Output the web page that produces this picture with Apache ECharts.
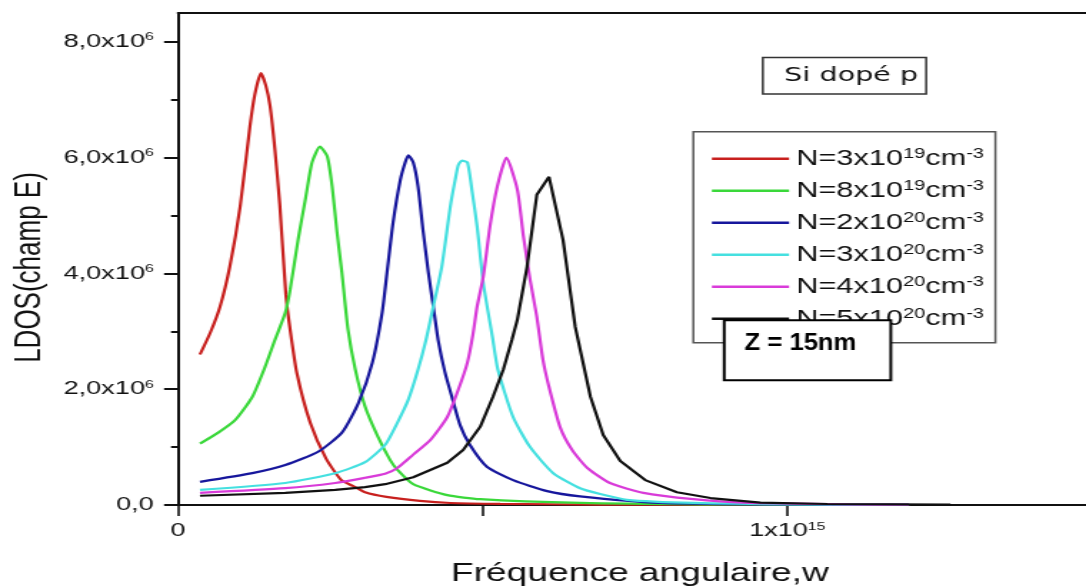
<!DOCTYPE html>
<html><head><meta charset="utf-8">
<script src="https://cdn.jsdelivr.net/npm/echarts@6/dist/echarts.min.js"></script>
<style>
html,body{margin:0;padding:0;background:#fff;overflow:hidden;}
#wrap{width:1086px;height:586px;overflow:hidden;position:relative;background:#fff;}
#chart{width:760px;height:586px;transform:scaleX(1.428947);transform-origin:0 0;}
</style></head>
<body><div id="wrap"><div id="chart"></div></div>
<script>
// Series labels (N concentrations)
const mantissas = ['3', '8', '2', '3', '4', '5'];
const exponents = ['19', '19', '20', '20', '20', '20'];
const colors = ['#c8201e', '#3ad83a', '#16169c', '#45e0e0', '#d93bd9', '#111111'];

// Angular frequency (rad/s) and LDOS values
const wRed = [0.036e15,0.053e15,0.069e15,0.085e15,0.102e15,0.118e15,0.126e15,0.136e15,0.144e15,0.151e15,0.159e15,0.167e15,0.177e15,0.184e15,0.195e15,0.217e15,0.243e15,0.268e15,0.287e15,0.307e15,0.342e15,0.397e15,0.447e15,0.529e15,0.693e15,0.857e15,1.2e15];
const ldosRed = [2.60e6,2.98e6,3.43e6,4.12e6,5.16e6,6.54e6,7.09e6,7.46e6,7.25e6,6.90e6,6.14e6,5.19e6,3.63e6,3.03e6,2.28e6,1.42e6,0.80e6,0.43e6,0.33e6,0.22e6,0.14e6,0.07e6,0.035e6,0.02e6,0.008e6,0.005e6,0.003e6];

const wGreen = [0.036e15,0.066e15,0.094e15,0.122e15,0.143e15,0.159e15,0.176e15,0.184e15,0.197e15,0.209e15,0.220e15,0.233e15,0.245e15,0.253e15,0.261e15,0.269e15,0.279e15,0.291e15,0.307e15,0.328e15,0.348e15,0.360e15,0.386e15,0.442e15,0.496e15,0.660e15,0.857e15,1.2e15];
const ldosGreen = [1.06e6,1.25e6,1.47e6,1.87e6,2.39e6,2.85e6,3.32e6,3.72e6,4.58e6,5.28e6,5.92e6,6.19e6,6.02e6,5.50e6,4.71e6,4.01e6,3.03e6,2.34e6,1.70e6,1.18e6,0.78e6,0.61e6,0.36e6,0.17e6,0.10e6,0.035e6,0.012e6,0.004e6];

const wBlue = [0.036e15,0.122e15,0.176e15,0.230e15,0.269e15,0.296e15,0.319e15,0.335e15,0.343e15,0.353e15,0.365e15,0.373e15,0.378e15,0.386e15,0.394e15,0.402e15,0.411e15,0.419e15,0.427e15,0.438e15,0.450e15,0.463e15,0.479e15,0.507e15,0.550e15,0.606e15,0.660e15,0.791e15,0.956e15,1.2e15];
const ldosBlue = [0.40e6,0.55e6,0.69e6,0.92e6,1.25e6,1.76e6,2.46e6,3.32e6,4.01e6,4.88e6,5.62e6,5.92e6,6.04e6,5.92e6,5.50e6,4.76e6,4.01e6,3.43e6,2.85e6,2.30e6,1.85e6,1.38e6,1.04e6,0.66e6,0.43e6,0.24e6,0.15e6,0.035e6,0.01e6,0.004e6];

const wCyan = [0.036e15,0.176e15,0.258e15,0.307e15,0.340e15,0.360e15,0.378e15,0.394e15,0.407e15,0.419e15,0.433e15,0.447e15,0.455e15,0.460e15,0.466e15,0.475e15,0.483e15,0.491e15,0.501e15,0.516e15,0.525e15,0.550e15,0.578e15,0.616e15,0.660e15,0.693e15,0.737e15,0.846e15,1.021e15,1.2e15];
const ldosCyan = [0.26e6,0.38e6,0.55e6,0.74e6,1.04e6,1.42e6,1.82e6,2.34e6,2.85e6,3.43e6,4.12e6,5.16e6,5.62e6,5.87e6,5.95e6,5.92e6,5.40e6,4.81e6,3.84e6,2.91e6,2.34e6,1.52e6,1.00e6,0.55e6,0.29e6,0.19e6,0.09e6,0.035e6,0.01e6,0.005e6];

const wMagenta = [0.036e15,0.176e15,0.258e15,0.307e15,0.340e15,0.360e15,0.386e15,0.414e15,0.442e15,0.460e15,0.475e15,0.484e15,0.491e15,0.501e15,0.512e15,0.524e15,0.539e15,0.557e15,0.567e15,0.578e15,0.589e15,0.599e15,0.608e15,0.627e15,0.647e15,0.672e15,0.709e15,0.764e15,0.846e15,0.928e15,1.103e15,1.2e15];
const ldosMagenta = [0.21e6,0.29e6,0.38e6,0.47e6,0.54e6,0.64e6,0.87e6,1.12e6,1.52e6,1.99e6,2.46e6,2.94e6,3.43e6,3.94e6,4.81e6,5.50e6,6.00e6,5.45e6,4.64e6,3.89e6,3.25e6,2.51e6,2.08e6,1.35e6,0.95e6,0.64e6,0.38e6,0.21e6,0.10e6,0.04e6,0.01e6,0.006e6];

const wBlack = [0.036e15,0.176e15,0.258e15,0.307e15,0.340e15,0.386e15,0.442e15,0.468e15,0.496e15,0.517e15,0.534e15,0.548e15,0.557e15,0.573e15,0.589e15,0.609e15,0.632e15,0.652e15,0.677e15,0.698e15,0.726e15,0.767e15,0.819e15,0.874e15,0.956e15,1.066e15,1.268e15];
const ldosBlack = [0.16e6,0.21e6,0.26e6,0.31e6,0.36e6,0.48e6,0.73e6,0.95e6,1.35e6,1.87e6,2.34e6,2.85e6,3.20e6,4.12e6,5.36e6,5.67e6,4.58e6,3.08e6,1.87e6,1.21e6,0.76e6,0.43e6,0.22e6,0.12e6,0.04e6,0.017e6,0.005e6];

// Axis ticks
const xTicks = [0, 0.5e15, 1e15];
const xLabels = [0, 1e15];
const yMajorTicks = [0, 2e6, 4e6, 6e6, 8e6];
const yMinorTicks = [1e6, 3e6, 5e6, 7e6];

const xs = [wRed, wGreen, wBlue, wCyan, wMagenta, wBlack];
const ys = [ldosRed, ldosGreen, ldosBlue, ldosCyan, ldosMagenta, ldosBlack];
const names = mantissas.map((m, i) => 'N=' + m + 'x10^' + exponents[i] + 'cm^-3');

const FONT = "'Liberation Sans', Arial, sans-serif";
const supRich = {
  b: { fontSize: 19, lineHeight: 20, fontFamily: FONT, color: '#111' },
  s: { fontSize: 11, lineHeight: 11, verticalAlign: 'top', fontFamily: FONT, color: '#111' }
};

const chart = echarts.init(document.getElementById('chart'), null, { renderer: 'canvas' });
const option = {
  backgroundColor: '#fff',
  animation: false,
  grid: { left: 124.6, right: 0, top: 13, bottom: 81, outerBoundsMode: 'none', containLabel: false, show: false },
  xAxis: [{
    type: 'value', min: 0, max: 1.4906e15, position: 'bottom',
    name: 'Fréquence angulaire,w', nameLocation: 'middle', nameGap: 56,
    nameTextStyle: { fontSize: 26, fontFamily: FONT, color: '#111', padding: [0, 0, 0, 11] },
    axisLine: { show: true, onZero: false, lineStyle: { color: '#111', width: 2 } },
    axisTick: { show: true, length: 11, customValues: xTicks, lineStyle: { color: '#111', width: 1.6 } },
    axisLabel: {
      margin: 16, customValues: xLabels, fontSize: 19, fontFamily: FONT, color: '#111', rich: supRich,
      formatter: v => v === 0 ? '{b|0}' : '{b|1x10}{s|15}'
    },
    splitLine: { show: false }
  }, {
    type: 'value', min: 0, max: 1.4906e15, position: 'top',
    axisLine: { show: true, onZero: false, lineStyle: { color: '#111', width: 2 } },
    axisTick: { show: false }, axisLabel: { show: false }, splitLine: { show: false }
  }],
  yAxis: [{
    type: 'value', min: 0, max: 8.5e6, position: 'left',
    name: 'LDOS(champ E)', nameLocation: 'middle', nameGap: 91,
    nameTextStyle: { fontSize: 26, fontFamily: FONT, color: '#111', padding: [0, 17, 0, 0] },
    axisLine: { show: true, onZero: false, lineStyle: { color: '#111', width: 2 } },
    axisTick: { show: true, length: 9.8, customValues: yMajorTicks, lineStyle: { color: '#111', width: 2 } },
    axisLabel: {
      margin: 17, customValues: yMajorTicks, rich: supRich,
      formatter: v => v === 0 ? '{b|0,0}' : '{b|' + (v / 1e6).toFixed(1).replace('.', ',') + 'x10}{s|6}'
    },
    splitLine: { show: false }
  }, {
    type: 'value', min: 0, max: 8.5e6, position: 'left', offset: 0,
    axisLine: { show: false },
    axisTick: { show: true, length: 4.9, customValues: yMinorTicks, lineStyle: { color: '#111', width: 2 } },
    axisLabel: { show: false },
    splitLine: { show: false }
  }],
  legend: {
    orient: 'vertical', left: 485.2, top: 131.7,
    padding: [15, 8, 13, 13], itemGap: 9, itemWidth: 54, itemHeight: 2.4, icon: 'rect',
    borderColor: '#555', borderWidth: 1.5, backgroundColor: '#fff',
    data: names,
    textStyle: {
      color: '#111', fontFamily: FONT,
      rich: {
        b: { fontSize: 21.5, lineHeight: 24, fontFamily: FONT, color: '#111' },
        s: { fontSize: 14, lineHeight: 16, verticalAlign: 'top', fontFamily: FONT, color: '#111' }
      }
    },
    formatter: n => {
      const i = names.indexOf(n);
      return '{b|N=' + mantissas[i] + 'x10}{s|' + exponents[i] + '}{b|cm}{s|-3}';
    }
  },
  graphic: [{
    type: 'group', left: 533.1, top: 56.7, z: 100,
    children: [
      { type: 'rect', z: 100, shape: { x: 0, y: 0, width: 114.3, height: 36.6 }, style: { fill: '#fff', stroke: '#333', lineWidth: 1.5 } },
      { type: 'text', z: 101, x: 61.8, y: 18.5, style: { text: 'Si dopé p', fontSize: 20, fontFamily: "'DejaVu Sans', sans-serif", fill: '#111', align: 'center', verticalAlign: 'middle' } }
    ]
  }, {
    type: 'group', left: 505.8, top: 319.3, z: 100,
    children: [
      { type: 'rect', z: 100, shape: { x: 0, y: 0, width: 116.6, height: 60 }, style: { fill: '#fff', stroke: '#000', lineWidth: 2 } },
      { type: 'text', z: 101, x: 14.2, y: 23, scaleX: 0.78, style: { text: 'Z = 15nm', fontSize: 23, fontWeight: 'bold', fontFamily: FONT, fill: '#000', align: 'left', verticalAlign: 'middle' } }
    ]
  }],
  series: names.map((n, i) => ({
    name: n, type: 'line', xAxisIndex: 0, yAxisIndex: 0,
    data: xs[i].map((w, k) => [w, ys[i][k]]),
    symbol: 'none', smooth: i === 5 ? false : 0.2,
    lineStyle: { color: colors[i], width: 2.2 },
    itemStyle: { color: colors[i] },
    clip: true
  }))
};
chart.setOption(option);
</script>
</body></html>
